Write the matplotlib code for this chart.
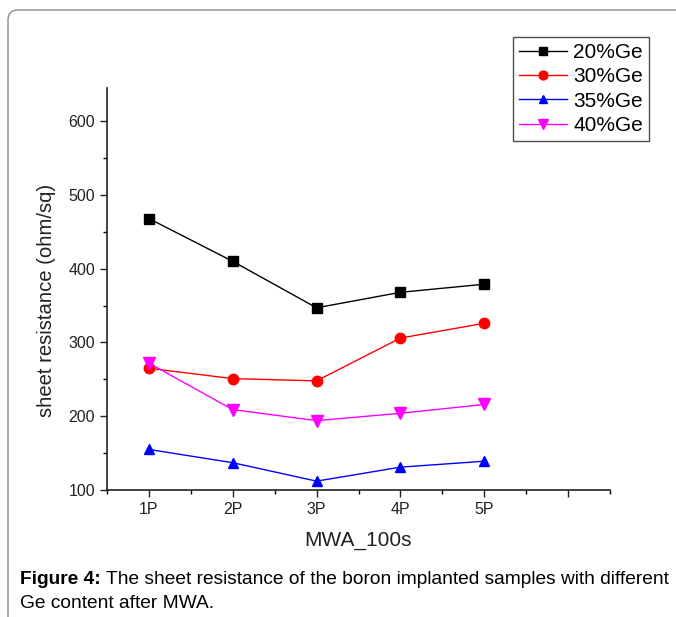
import matplotlib
matplotlib.use('Agg')
import matplotlib.pyplot as plt
from matplotlib.patches import FancyBboxPatch
from matplotlib.transforms import IdentityTransform
from matplotlib.ticker import MultipleLocator

plt.rcParams['font.family'] = ['Liberation Sans', 'DejaVu Sans']

samples = ['1P', '2P', '3P', '4P', '5P']
ge20 = [468, 410, 347, 368, 379]
ge30 = [265, 251, 248, 306, 326]
ge35 = [155, 137, 112, 131, 139]
ge40 = [272, 209, 194, 204, 216]

fig = plt.figure(figsize=(6.76, 6.17), dpi=100)

# grey rounded frame around the figure panel
frame = FancyBboxPatch((8, -30), 700, 607 + 30, boxstyle='round,pad=0,rounding_size=10',
                       transform=IdentityTransform(), facecolor='none',
                       edgecolor='#8c8c8c', linewidth=1.0)
fig.patches.append(frame)

ax = fig.add_axes([107 / 676, 1 - 490 / 617, (610 - 107) / 676, (490 - 88) / 617])

x = range(1, len(samples) + 1)
ax.plot(x, ge20, '-s', color='black', lw=1, ms=7.5, label='20%Ge')
ax.plot(x, ge30, '-o', color='red', lw=1, ms=7.5, label='30%Ge')
ax.plot(x, ge35, '-^', color='blue', lw=1, ms=7.5, label='35%Ge')
ax.plot(x, ge40, '-v', color='magenta', lw=1, ms=8.5, label='40%Ge')

ax.set_xlim(0.5, 6.5)
ax.set_ylim(100, 645)
ax.set_xticks([1, 2, 3, 4, 5, 6])
ax.set_xticklabels(samples + [''])
ax.set_yticks([100, 200, 300, 400, 500, 600])
ax.xaxis.set_minor_locator(MultipleLocator(0.5))
ax.yaxis.set_minor_locator(MultipleLocator(50))
ax.tick_params(which='major', length=5, width=1, labelsize=11.5, colors='#222222')
ax.tick_params(which='minor', length=3, width=1)
ax.spines['top'].set_visible(False)
ax.spines['right'].set_visible(False)
for s in ['left', 'bottom']:
    ax.spines[s].set_linewidth(1.2)
    ax.spines[s].set_color('#222222')

ax.set_xlabel('MWA_100s', fontsize=15, labelpad=10, color='#222222')
ax.set_ylabel('sheet resistance (ohm/sq)', fontsize=14.6, color='#222222')
ax.yaxis.set_label_coords(-0.101, 0.4726)

fig.legend(loc='upper left', bbox_to_anchor=(513 / 676, 1 - 37 / 617), fontsize=15,
           frameon=True, fancybox=False, edgecolor='#222222', handlelength=2.3,
           handletextpad=0.3, labelspacing=0.25, borderpad=0.3, borderaxespad=0,
           markerscale=0.85)

# caption with bold prefix
t1 = fig.text(20 / 676, 1 - 580 / 617, 'Figure 4:', fontsize=13.75, fontweight='bold',
              va='center', ha='left')
ax.annotate(' The sheet resistance of the boron implanted samples with different',
            xy=(1, 0), xycoords=t1, fontsize=13.75, va='bottom', ha='left',
            annotation_clip=False)
fig.text(20 / 676, 1 - 604 / 617, 'Ge content after MWA.', fontsize=13.75,
         va='center', ha='left')

fig.savefig('out.png', dpi=100)
